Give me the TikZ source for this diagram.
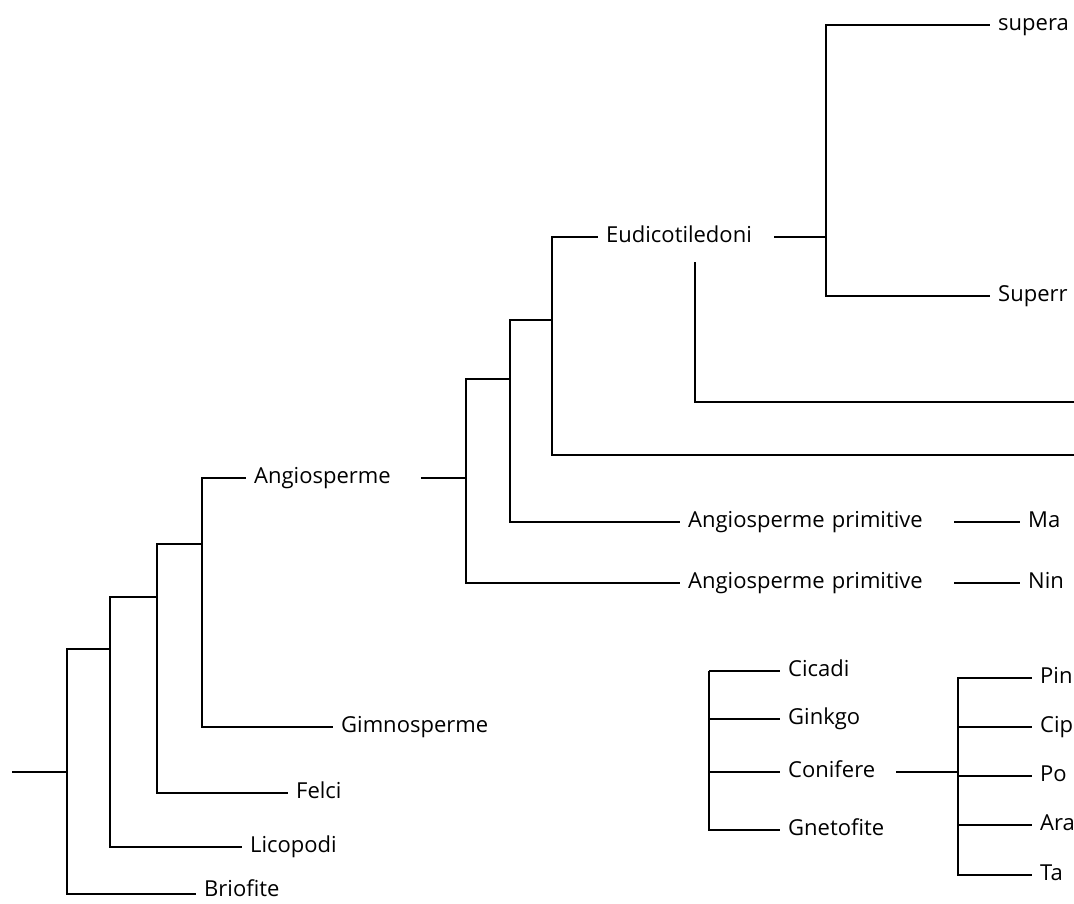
\documentclass[tikz,border=0pt]{standalone}
\usepackage{fontspec}
\setmainfont{Open Sans}
\usepackage{tikz}
\usetikzlibrary{positioning}

\begin{document}
\begin{tikzpicture}[
    x=1pt, y=-1pt,
    rama/.style={line width=1.8pt, color=black},
    taxon/.style={
        anchor=west,
        inner xsep=8pt,
        inner ysep=0pt,
        text height=13pt,
        text depth=3pt,
        font=\fontsize{22}{26}\selectfont,
    },
    largo/.style={taxon, text width=#1, align=left},
]
\useasboundingbox (0,0) rectangle (1074,903);
\clip (0,0) rectangle (1074,903);

\node[taxon, text depth=9pt] (briofite) at ( 196, 894) {Briofite};
\node[taxon] (licopodi) at ( 242, 847) {Licopodi};
\node[taxon] (felci)    at ( 288, 793) {Felci};
\node[taxon] (gimno)    at ( 333, 727) {Gimnosperme};
\node[taxon] (angio)    at ( 246, 478) {Angiosperme};
\node[largo=160pt] (eudi)  at ( 598, 237) {Eudicotiledoni};
\node[taxon] (supera)   at ( 990,  25) {supera};
\node[taxon] (superr)   at ( 990, 296) {Superr};
\node[largo=258pt] (prima) at ( 680, 522) {Angiosperme primitive};
\node[largo=258pt] (primb) at ( 680, 583) {Angiosperme primitive};
\node[taxon] (magno)    at (1020, 522) {Ma};
\node[taxon] (ninfe)    at (1020, 583) {Nin};
\node[taxon] (cicadi)   at ( 780, 671) {Cicadi};
\node[taxon] (ginkgo)   at ( 780, 719) {Ginkgo};
\node[largo=100pt] (conif) at ( 780, 772) {Conifere};
\node[taxon] (gneto)    at ( 780, 830) {Gnetofite};
\node[taxon] (pina)     at (1032, 678) {Pin};
\node[taxon] (cipr)     at (1032, 727) {Cip};
\node[taxon] (podo)     at (1032, 776) {Po};
\node[taxon] (arau)     at (1032, 825) {Ara};
\node[taxon] (taxa)     at (1032, 875) {Ta};

\coordinate (radice) at (  12, 772);
\coordinate (nA)     at (  67, 772);
\coordinate (nB)     at ( 110, 649);
\coordinate (nC)     at ( 157, 597);
\coordinate (nD)     at ( 202, 544);
\coordinate (nE)     at ( 466, 478);
\coordinate (nF)     at ( 510, 379);
\coordinate (nG)     at ( 552, 320);
\coordinate (nH)     at ( 826, 237);
\coordinate (nI)     at ( 695, 262);
\coordinate (fineA)  at (1080, 402);
\coordinate (fineB)  at (1080, 455);
\coordinate (nGym)   at ( 709, 671);
\coordinate (nCon)   at ( 958, 772);

\draw[rama] (radice) -- (nA);
\draw[rama] (nA) |- (briofite);
\draw[rama] (nA) |- (nB);
\draw[rama] (nB) |- (licopodi);
\draw[rama] (nB) |- (nC);
\draw[rama] (nC) |- (felci);
\draw[rama] (nC) |- (nD);
\draw[rama] (nD) |- (gimno);
\draw[rama] (nD) |- (angio);

\draw[rama] ([xshift=22pt]angio.east) -- (nE);
\draw[rama] (nE) |- (nF);
\draw[rama] (nE) |- (primb);
\draw[rama] (nF) |- (nG);
\draw[rama] (nF) |- (prima);
\draw[rama] (nG) |- (eudi);
\draw[rama] (nG) |- (fineB);
\draw[rama] (eudi) -- (nH);
\draw[rama] (nH) |- (supera);
\draw[rama] (nH) |- (superr);
\draw[rama] (nI) |- (fineA);
\draw[rama] (prima) -- (magno);
\draw[rama] (primb) -- (ninfe);

\draw[rama] (nGym) -- (cicadi);
\draw[rama] (nGym) |- (ginkgo);
\draw[rama] (nGym) |- (conif);
\draw[rama] (nGym) |- (gneto);
\draw[rama] (conif) -- (nCon);
\draw[rama] (nCon) |- (pina);
\draw[rama] (nCon) |- (cipr);
\draw[rama] (nCon) |- (podo);
\draw[rama] (nCon) |- (arau);
\draw[rama] (nCon) |- (taxa);

\end{tikzpicture}
\end{document}
